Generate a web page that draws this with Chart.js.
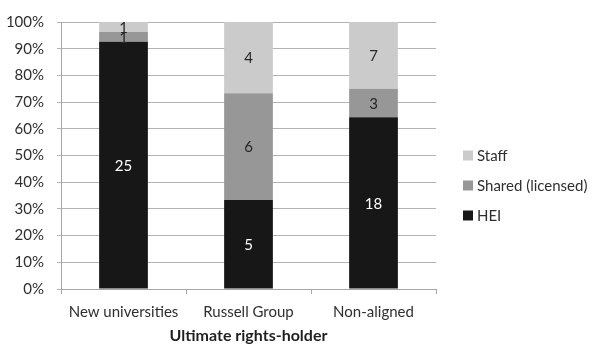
<!DOCTYPE html>
<html>
<head>
<meta charset="utf-8">
<script src="https://cdn.jsdelivr.net/npm/chart.js@4"></script>
<style>
  html, body { margin: 0; padding: 0; background: #fff; }
  #wrap { width: 597px; height: 345px; }
</style>
</head>
<body>
<div id="wrap"><canvas id="c" width="597" height="345"></canvas></div>
<script>
// Ultimate rights-holder by institution group (counts of institutions)
const categories = ['New universities', 'Russell Group', 'Non-aligned'];
const heiCounts = [25, 5, 18];
const sharedCounts = [1, 6, 3];
const staffCounts = [1, 4, 7];
const yTicks = [0, 10, 20, 30, 40, 50, 60, 70, 80, 90, 100];

const FONT = 'Lato, "Open Sans", sans-serif';
const TEXT = '#2f2f2f';

const totals = categories.map((_, i) => heiCounts[i] + sharedCounts[i] + staffCounts[i]);
const asShare = counts => counts.map((v, i) => v / totals[i] * 100);

const seriesDefs = [
  { label: 'HEI', counts: heiCounts, color: '#171717', text: '#ffffff' },
  { label: 'Shared (licensed)', counts: sharedCounts, color: '#979797', text: '#262626' },
  { label: 'Staff', counts: staffCounts, color: '#cbcbcb', text: '#262626' }
];

// Count labels centred inside each segment
const segmentLabels = {
  id: 'segmentLabels',
  afterDatasetsDraw(chart) {
    const ctx = chart.ctx;
    ctx.save();
    ctx.font = '15px ' + FONT;
    ctx.textAlign = 'center';
    ctx.textBaseline = 'middle';
    chart.data.datasets.forEach((ds, di) => {
      const meta = chart.getDatasetMeta(di);
      meta.data.forEach((bar, i) => {
        const cy = (bar.y + bar.base) / 2;
        ctx.fillStyle = seriesDefs[di].text;
        ctx.fillText(String(ds.counts[i]), bar.x, cy + 1);
      });
    });
    ctx.restore();
  }
};

// Legend on the right, top entry is the top segment
const sideLegend = {
  id: 'sideLegend',
  afterDraw(chart) {
    const ctx = chart.ctx;
    const area = chart.chartArea;
    const x0 = area.right + 27;
    const rowGap = 30;
    const items = seriesDefs.slice().reverse();
    const midY = (area.top + area.bottom) / 2 + 30;
    ctx.save();
    ctx.font = '15px ' + FONT;
    ctx.textBaseline = 'middle';
    items.forEach((s, k) => {
      const y = midY + (k - 1) * rowGap;
      ctx.fillStyle = s.color;
      ctx.fillRect(x0, y - 5, 10, 10);
      ctx.fillStyle = TEXT;
      ctx.fillText(s.label, x0 + 14, y + 1);
    });
    ctx.restore();
  }
};

new Chart(document.getElementById('c'), {
  type: 'bar',
  data: {
    labels: categories,
    datasets: seriesDefs.map(s => ({
      label: s.label,
      data: asShare(s.counts),
      counts: s.counts,
      backgroundColor: s.color,
      borderWidth: 0,
      barPercentage: 0.78,
      categoryPercentage: 0.5
    }))
  },
  options: {
    responsive: false,
    animation: false,
    layout: { padding: { top: 17, right: 161, left: 0, bottom: 0 } },
    plugins: {
      legend: { display: false },
      tooltip: { enabled: false }
    },
    scales: {
      x: {
        stacked: true,
        grid: {
          offset: true,
          drawOnChartArea: false,
          drawTicks: true,
          tickLength: 5,
          color: '#a6a6a6'
        },
        border: { color: '#a6a6a6', width: 1 },
        ticks: { color: TEXT, font: { family: FONT, size: 15 }, padding: 9, maxRotation: 0 },
        title: {
          display: true,
          text: 'Ultimate rights-holder',
          color: '#1f1f1f',
          font: { family: FONT, size: 16, weight: 'bold' },
          padding: { top: 3, bottom: 0 }
        },
        afterFit(scale) { scale.height = 56; }
      },
      y: {
        stacked: true,
        min: 0,
        max: 100,
        afterBuildTicks(scale) { scale.ticks = yTicks.map(v => ({ value: v })); },
        grid: { color: '#b3b3b3', tickLength: 4, drawTicks: true },
        border: { color: '#a6a6a6', width: 1 },
        ticks: {
          color: TEXT,
          font: { family: FONT, size: 15 },
          padding: 13,
          callback: v => v + '%'
        },
        afterFit(scale) { scale.width = 61; }
      }
    }
  },
  plugins: [segmentLabels, sideLegend]
});
</script>
</body>
</html>
